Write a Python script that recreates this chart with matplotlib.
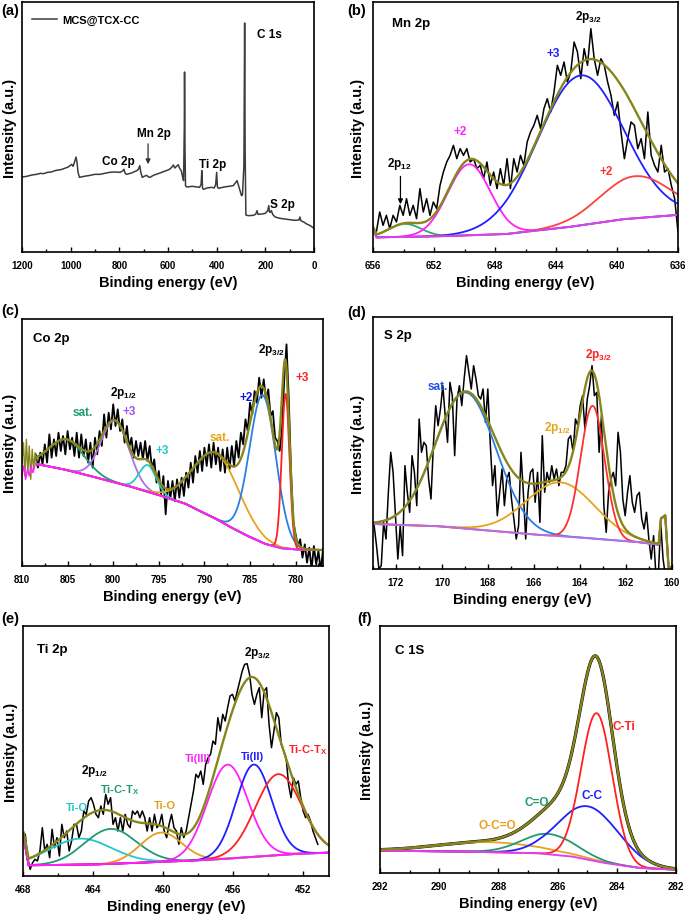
import numpy as np
import matplotlib.pyplot as plt
from matplotlib.ticker import MultipleLocator, FormatStrFormatter

plt.rcParams['font.family'] = ['Liberation Sans', 'DejaVu Sans']
plt.rcParams['font.weight'] = 'bold'
plt.rcParams['axes.labelweight'] = 'bold'
plt.rcParams['mathtext.fontset'] = 'custom'
plt.rcParams['mathtext.rm'] = 'Liberation Sans:bold'
plt.rcParams['mathtext.it'] = 'Liberation Sans:bold'
plt.rcParams['mathtext.bf'] = 'Liberation Sans:bold'
plt.rcParams['mathtext.default'] = 'bf'

OLIVE = '#86861c'

# ---------------- (a) survey spectrum ----------------
a_energy = [1200, 1180, 1160, 1140, 1125, 1112, 1095, 1080, 1060, 1040, 1025, 1010, 996, 990, 984,
            978, 974, 970, 964, 945, 920, 900, 879, 860, 840, 820, 797, 785, 781, 776, 770, 750,
            735, 728, 722, 716, 712, 706, 698, 688, 680, 674, 660, 645, 633, 615, 600, 592, 585,
            578, 572, 565, 558, 552, 545, 540, 536, 533, 532, 530, 528, 523, 500, 480, 470, 464,
            461, 458, 454, 440, 420, 410, 404, 400, 397, 392, 370, 350, 332, 320, 316, 310, 304,
            298, 294, 288, 285, 283, 280, 270, 250, 240, 234, 230, 215, 200, 190, 186, 183, 180,
            175, 170, 160, 140, 120, 100, 80, 62, 58, 54, 40, 30, 15, 0]
a_counts = [22.5, 22.7, 23.1, 23.3, 23.6, 23.5, 23.9, 24.0, 24.5, 24.7, 25.1, 25.5, 26.3, 25.7, 27.0,
            28.5, 27.0, 24.0, 22.4, 22.7, 23.0, 23.3, 23.3, 23.6, 23.9, 24.0, 23.9, 24.4, 24.8, 23.6,
            23.3, 23.7, 24.2, 24.4, 24.8, 25.9, 24.0, 22.4, 22.7, 23.0, 22.5, 22.4, 23.0, 23.4, 23.7,
            24.2, 24.6, 24.9, 25.4, 26.1, 25.2, 25.7, 26.2, 25.1, 24.3, 22.5, 21.4, 37.5, 54.0, 30.0,
            19.9, 19.5, 19.7, 19.5, 19.4, 20.3, 24.4, 19.1, 18.8, 19.2, 19.4, 19.2, 20.3, 23.9, 19.5,
            19.1, 19.5, 19.7, 19.9, 21.0, 21.4, 19.9, 18.4, 16.9, 17.1, 26.0, 68.7, 30.0, 11.1, 10.9,
            11.0, 11.3, 12.4, 11.3, 11.4, 11.6, 12.4, 13.9, 12.0, 11.9, 12.4, 11.3, 10.5, 10.1, 9.9,
            9.7, 9.5, 9.6, 10.5, 9.4, 8.9, 8.4, 7.9, 7.1]

# ---------------- (b) Mn 2p ----------------
b_raw = [7, 6, 12, 8, 11, 7, 11, 9, 14, 11, 16, 11, 14, 10, 19, 12, 16, 11, 15, 13,
         20, 24, 27, 29, 32, 28, 31, 29, 31, 27, 28, 25, 26, 22, 27, 20, 24, 19, 25, 20,
         28, 19, 28, 24, 29, 26, 33, 36, 38, 41, 37, 43, 46, 42, 48, 56, 53, 57, 51, 54,
         63, 60, 52, 61, 56, 67, 58, 53, 58, 56, 51, 47, 41, 45, 36, 28, 34, 39, 38, 31,
         34, 28, 42, 29, 26, 24, 32, 24, 25, 20, 16, 6]
b_base_e = [656.0, 655.76, 651.6, 647.2, 642.8, 639.5, 636.1, 636.0]
b_base_i = [7.0, 4.4, 4.7, 5.4, 7.7, 9.9, 11.1, 11.1]
b_centers = [653.9, 649.7, 642.4, 638.8]
b_heights = [3.9, 21.3, 45.0, 12.6]
b_fwhm = [2.5, 3.3, 6.6, 5.5]
b_colors = ['#2ca86a', '#ff1fff', '#1f1fff', '#ff4040']

# ---------------- (c) Co 2p ----------------
c_raw = [33.5, 29.5, 34.0, 30.5, 36.5, 31.0, 39.5, 32.5, 38.0, 33.0,
         40.0, 34.5, 39.0, 33.5, 40.5, 35.0, 38.5, 33.0, 40.0, 32.5,
         39.5, 33.0, 38.0, 31.0, 37.0, 29.5, 38.5, 33.5, 40.5, 36.0,
         45.5, 38.5, 46.0, 41.0, 48.5, 42.0, 47.0, 40.5, 44.0, 37.0,
         42.0, 35.5, 38.5, 32.5, 37.5, 33.0, 37.0, 32.0, 37.5, 31.5,
         36.0, 29.0, 32.0, 25.0, 28.5, 21.5, 27.0, 15.5, 25.5, 20.0,
         25.5, 19.5, 26.0, 20.5, 26.5, 21.0, 28.0, 23.5, 31.0, 25.0,
         33.0, 28.0, 34.5, 28.5, 35.5, 30.0, 36.5, 29.5, 37.0, 30.5,
         35.5, 28.5, 35.0, 28.0, 35.5, 29.0, 36.0, 30.0, 37.5, 32.5,
         40.0, 36.5, 44.0, 40.5, 49.0, 45.5, 52.5, 49.0, 56.5, 50.5,
         56.0, 50.0, 53.0, 45.0, 46.5, 38.5, 37.5, 34.5, 41.0, 56.0,
         66.5, 50.0, 28.0, 13.0, 9.5, 6.0, 8.0, 2.5, 6.5, 1.0,
         5.5, -1.0, 6.0, 0.5, 4.5, -1.5, 5.0]
c_edge_fit = [31, 37, 27, 38, 28, 36, 26, 35, 29, 34, 30]
c_edge_base = [27, 30, 26, 29, 27, 30, 28, 30]
c_base_e = [808.4, 805.1, 801.5, 797.8, 794.2, 792.0, 790.6, 788.7, 786.9, 785.1, 783.3, 781.5, 779.6, 777.1]
c_base_i = [30.6, 28.8, 26.3, 23.6, 20.6, 18.6, 16.6, 14.1, 11.3, 8.8, 6.6, 5.3, 4.9, 4.8]
c_centers = [805.1, 799.8, 796.2, 788.7, 783.6, 781.1]
c_heights = [9.2, 18.5, 8.0, 19.8, 44.3, 46.4]
c_fwhm = [4.5, 3.6, 2.2, 5.9, 3.4, 1.0]
c_colors = ['#1f9a72', '#b070e8', '#22c8c8', '#e8a31c', '#2a7ee6', '#ff2020']

# ---------------- (d) S 2p ----------------
d_raw = [13, 7, 0, 1, 14, 9, 23, 35, 29, 16, 3, 13, 4, 31, 23, 17, 34, 29, 19, 45,
         35, 38, 37, 27, 21, 37, 49, 43, 48, 55, 46, 38, 56, 52, 34, 51, 55, 49, 57, 64,
         59, 54, 61, 57, 52, 51, 54, 44, 54, 38, 25, 31, 16, 23, 30, 19, 27, 29, 21, 15,
         9, 13, 35, 23, 9, 23, 29, 30, 20, 29, 14, 40, 23, 29, 26, 31, 27, 30, 25, 29,
         29, 31, 39, 40, 35, 45, 43, 49, 52, 42, 51, 55, 61, 52, 53, 35, 46, 19, 11, 23,
         27, 29, 25, 41, 35, 21, 16, 23, 28, 20, 17, 22, 23, 15, 12, 17, 9, 3, 10, -2,
         -2, 14, 3, -2, -2, -2]
d_base_e = [172.95, 170.05, 167.88, 165.71, 163.55, 161.38, 160.58, 160.48, 160.29, 160.15, 160.0]
d_base_i = [13.5, 12.8, 11.5, 10.2, 9.2, 8.0, 7.3, 15.0, 16.0, 0.5, 0.5]
d_centers = [168.97, 164.85, 163.45]
d_heights = [40.8, 16.2, 39.8]
d_fwhm = [3.1, 3.5, 1.23]
d_colors = ['#2a7ee6', '#e8a31c', '#ff3030']

# ---------------- (e) Ti 2p ----------------
e_raw = [12.5, 5.5, 2, 4, 5, 4.5, 7.5, 14.5, 7.5, 9.5,
         5.5, 14, 8.5, 11.5, 6, 15.5, 11.5, 13.5, 7.5, 10.5,
         15.5, 15.5, 11.5, 13.5, 19.5, 18.5, 22.5, 23.5, 21.5, 18.5,
         17.5, 21, 18.5, 24.5, 21.5, 23.5, 15.5, 17.5, 13.5, 17.5,
         13.5, 18.5, 15.5, 14.5, 19.5, 18.5, 19.5, 17.5, 19.5, 17.5,
         13.5, 17.5, 13.5, 18.5, 14.5, 15.5, 18.5, 13.5, 11.5, 15.5,
         18.5, 14.5, 13.5, 9.5, 14.5, 11.5, 13.5, 17.5, 21.5, 25.5,
         30.5, 29.5, 31.5, 27.5, 33.5, 35.5, 36.5, 40.5, 39.5, 47.5,
         43.5, 48.5, 46.5, 50.5, 54, 54.5, 52.5, 55.5, 58.5, 61.5,
         63.5, 63.7, 60.5, 54.5, 51.5, 54.5, 56.5, 47.5, 55.5, 56.5,
         45.5, 38.5, 43.5, 49, 47.5, 39.5, 37.5, 35.5, 27.5, 23.5,
         29.5, 27.5, 28.5, 23.5, 19.5, 17.5, 18.5, 16.5, 13.5, 11.5, 9.5]
e_base_e = [467.96, 467.68, 463.59, 459.79, 457.89, 455.98, 454.08, 452.18, 450.5]
e_base_i = [11.5, 3.2, 3.5, 4.3, 4.7, 5.3, 6.0, 6.7, 7.0]
e_centers = [464.7, 463.0, 460.1, 456.3, 454.8, 453.4]
e_heights = [7.8, 10.5, 8.8, 28.2, 27.7, 24.3]
e_fwhm = [4.2, 3.5, 2.8, 2.75, 2.4, 3.1]
e_colors = ['#22c8c8', '#1f9a72', '#e0a020', '#ff1fff', '#1f1fff', '#ff2020']

# ---------------- (f) C 1s ----------------
f_base_e = [292.0, 288.85, 286.6, 285.47, 284.34, 283.22, 282.0]
f_base_i = [6.7, 6.4, 5.9, 4.9, 2.9, 1.5, 1.0]
f_centers = [288.3, 286.3, 284.96, 284.68]
f_heights = [3.0, 6.1, 16.0, 44.5]
f_fwhm = [4.1, 2.14, 2.4, 1.24]
f_colors = ['#e8a31c', '#1f9a72', '#1f1fff', '#ff2020']


def gauss(x, c, h, w):
    return h * np.exp(-4 * np.log(2) * ((x - c) / w) ** 2)


def draw_fit(ax, base_e, base_i, centers, heights, fwhm, colors, base_color):
    x = np.linspace(min(base_e), max(base_e), 1500)
    base = np.interp(x, base_e[::-1], base_i[::-1])
    total = base.copy()
    for c, h, w, col in zip(centers, heights, fwhm, colors):
        g = gauss(x, c, h, w)
        ax.plot(x, base + g, color=col, lw=1.3)
        total += g
    ax.plot(x, base, color=base_color, lw=1.4)
    return x, total


def frame(ax, xlim, ylim, major, minor, ypad):
    ax.set_xlim(*xlim)
    ax.set_ylim(*ylim)
    ax.xaxis.set_major_locator(MultipleLocator(major))
    ax.xaxis.set_minor_locator(MultipleLocator(minor))
    ax.xaxis.set_major_formatter(FormatStrFormatter('%d'))
    ax.set_yticks([])
    ax.tick_params(axis='x', which='both', direction='in', labelsize=7, pad=5.5, width=1)
    ax.tick_params(axis='x', which='major', length=3.5)
    ax.tick_params(axis='x', which='minor', length=2)
    for s in ax.spines.values():
        s.set_linewidth(1.2)
    ax.set_xlabel('Binding energy (eV)', fontsize=10.5, labelpad=4)
    ax.set_ylabel('Intensity (a.u.)', fontsize=10.5, labelpad=ypad)


W, H = 685, 920
fig = plt.figure(figsize=(W / 100, H / 100), dpi=100)


def box(l, t, r, b):
    return fig.add_axes([l / W, 1 - b / H, (r - l) / W, (b - t) / H])


# (a)
ax = box(22, 3, 314, 253)
ax.plot(a_energy, a_counts, color='#3c3c3c', lw=1.1, label='MCS@TCX-CC')
frame(ax, (1200, 0), (0, 75), 200, 100, 3.5)
ax.legend(loc='upper left', bbox_to_anchor=(0.034, 0.95), frameon=False, fontsize=8,
          handlelength=2.3, handletextpad=0.4, borderpad=0, borderaxespad=0)
ax.text(234, 65.4, 'C 1s', fontsize=8.5, va='center')
ax.text(727, 35.7, 'Mn 2p', fontsize=8.5, va='center')
ax.annotate('', xy=(682, 25.5), xytext=(682, 33.3),
            arrowprops=dict(arrowstyle='-|>', color='#333333', lw=0.9, mutation_scale=7))
ax.text(871, 27.3, 'Co 2p', fontsize=8.5, va='center')
ax.text(473, 26.4, 'Ti 2p', fontsize=8.5, va='center')
ax.text(181, 14.4, 'S 2p', fontsize=8.5, va='center')

# (b)
ax = box(373, 3, 678, 253)
ax.plot(np.linspace(656.0, 636.0, len(b_raw)), b_raw, color='black', lw=1.1)
x, total = draw_fit(ax, b_base_e, b_base_i, b_centers, b_heights, b_fwhm, b_colors, '#ff1fff')
ax.plot(x, np.interp(x, b_base_e[::-1], b_base_i[::-1]), color='#b060e0', lw=0.8)
ax.plot(x, total, color=OLIVE, lw=1.7)
frame(ax, (656, 636), (0, 75), 4, 2, 6)
ax.text(654.75, 68.7, 'Mn 2p', fontsize=9.5, va='center')
ax.text(641.86, 70.8, '2p$_{3/2}$', fontsize=8.5, ha='center', va='center')
ax.text(644.2, 59.7, '+3', fontsize=8.5, color='#1f1fff', ha='center', va='center')
ax.text(650.3, 36.3, '+2', fontsize=8.5, color='#ff1fff', ha='center', va='center')
ax.text(640.7, 24.3, '+2', fontsize=8.5, color='#ff3030', ha='center', va='center')
ax.text(654.3, 26.6, '2p$_{12}$', fontsize=8.5, ha='center', va='center')
ax.annotate('', xy=(654.2, 13.5), xytext=(654.2, 23.5),
            arrowprops=dict(arrowstyle='-|>', color='black', lw=0.9, mutation_scale=7))

# (c)
ax = box(22, 320, 323, 567)
ax.plot(np.linspace(808.5, 777.0, len(c_raw)), c_raw, color='black', lw=1.3)
ax.plot(np.linspace(810.0, 808.4, len(c_edge_fit)), c_edge_fit, color=OLIVE, lw=1.0)
ax.plot(np.linspace(810.0, 808.6, len(c_edge_base)), c_edge_base, color='#ff1fff', lw=1.0)
x, total = draw_fit(ax, c_base_e, c_base_i, c_centers, c_heights, c_fwhm, c_colors, '#ff1fff')
ax.plot(x, total, color=OLIVE, lw=1.7)
frame(ax, (810, 777), (0, 74.1), 5, 2.5, 3.5)
ax.text(808.8, 68.4, 'Co 2p', fontsize=9.5, va='center')
ax.text(782.7, 65.1, '2p$_{3/2}$', fontsize=8.5, ha='center', va='center')
ax.text(779.3, 56.7, '+3', fontsize=8.5, color='#ff2020', ha='center', va='center')
ax.text(785.4, 50.7, '+2', fontsize=8.5, color='#1010f0', ha='center', va='center')
ax.text(788.3, 38.7, 'sat.', fontsize=8.5, color='#e8a31c', ha='center', va='center')
ax.text(794.6, 34.8, '+3', fontsize=8.5, color='#22c8c8', ha='center', va='center')
ax.text(798.2, 46.5, '+3', fontsize=8.5, color='#a050f0', ha='center', va='center')
ax.text(798.9, 52.2, '2p$_{1/2}$', fontsize=8.5, ha='center', va='center')
ax.text(803.3, 46.2, 'sat.', fontsize=8.5, color='#1f9a72', ha='center', va='center')

# (d)
ax = box(373, 318, 672, 570)
ax.plot(np.linspace(172.95, 160.08, len(d_raw)), d_raw, color='black', lw=1.1)
x, total = draw_fit(ax, d_base_e, d_base_i, d_centers, d_heights, d_fwhm, d_colors, '#b070e8')
ax.plot(x, total, color=OLIVE, lw=1.7)
frame(ax, (173, 160), (0, 75.6), 2, 1, 6)
ax.text(172.52, 70.2, 'S 2p', fontsize=9.5, va='center')
ax.text(163.2, 64.5, '2p$_{3/2}$', fontsize=8.5, color='#ff2020', ha='center', va='center')
ax.text(170.18, 54.9, 'sat.', fontsize=8.5, color='#1f4fe8', ha='center', va='center')
ax.text(164.98, 42.6, '2p$_{1/2}$', fontsize=8.5, color='#e8a31c', ha='center', va='center')

# (e)
ax = box(23, 627, 329, 877)
ax.plot(np.linspace(467.87, 451.14, len(e_raw)), e_raw, color='black', lw=1.1)
x, total = draw_fit(ax, e_base_e, e_base_i, e_centers, e_heights, e_fwhm, e_colors, '#ff1fff')
ax.plot(x, total, color=OLIVE, lw=1.7)
frame(ax, (468, 450.5), (0, 75), 4, 2, 3.5)
ax.text(467.2, 68.0, 'Ti 2p', fontsize=9.5, va='center')
ax.text(454.6, 67.1, '2p$_{3/2}$', fontsize=8.5, ha='center', va='center')
ax.text(451.7, 38.0, 'Ti-C-T$_X$', fontsize=8, color='#ff2020', ha='center', va='center')
ax.text(454.9, 35.9, 'Ti(II)', fontsize=8, color='#1f1fff', ha='center', va='center')
ax.text(458.0, 35.3, 'Ti(III)', fontsize=8, color='#ff1fff', ha='center', va='center')
ax.text(463.9, 31.7, '2p$_{1/2}$', fontsize=8.5, ha='center', va='center')
ax.text(462.5, 26.0, 'Ti-C-T$_X$', fontsize=8, color='#1f9a72', ha='center', va='center')
ax.text(464.9, 20.6, 'Ti-O', fontsize=8, color='#22c8c8', ha='center', va='center')
ax.text(459.9, 21.2, 'Ti-O', fontsize=8, color='#e0a020', ha='center', va='center')

# (f)
ax = box(380, 627, 676, 874)
x = np.linspace(282.0, 292.0, 1500)
fit_total = np.interp(x, f_base_e[::-1], f_base_i[::-1]) + sum(
    gauss(x, c, h, w) for c, h, w in zip(f_centers, f_heights, f_fwhm))
ax.plot(x, fit_total, color='black', lw=2.3)
draw_fit(ax, f_base_e, f_base_i, f_centers, f_heights, f_fwhm, f_colors, '#e040f0')
ax.plot(x, fit_total, color=OLIVE, lw=1.7)
frame(ax, (292, 282), (0, 74.2), 2, 1, 4.5)
ax.text(291.5, 66.9, 'C 1S', fontsize=9.5, va='center')
ax.text(283.76, 44.1, 'C-Ti', fontsize=8.5, color='#ff2020', ha='center', va='center')
ax.text(284.84, 23.4, 'C-C', fontsize=8.5, color='#1f1fff', ha='center', va='center')
ax.text(286.7, 21.3, 'C=O', fontsize=8.5, color='#1f9a72', ha='center', va='center')
ax.text(288.05, 14.4, 'O-C=O', fontsize=8.5, color='#e8a31c', ha='center', va='center')

for label, px, py in [('(a)', 1, 11), ('(b)', 347, 11), ('(c)', 1, 311),
                      ('(d)', 347, 313), ('(e)', 1, 619), ('(f)', 357, 619)]:
    fig.text(px / W, 1 - py / H, label, fontsize=10.5, va='center', ha='left')

fig.savefig('out.png', dpi=100)
